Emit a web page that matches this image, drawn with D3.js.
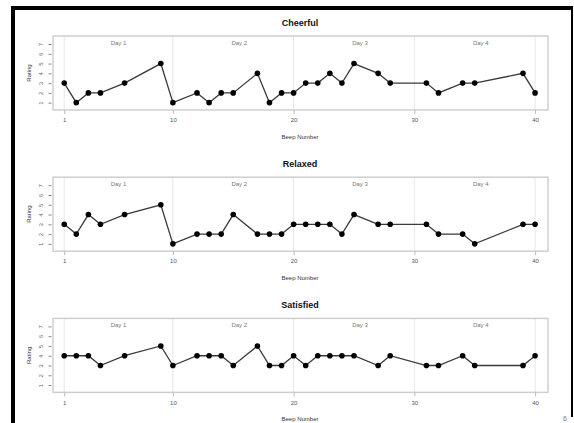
<!DOCTYPE html>
<html>
<head>
<meta charset="utf-8">
<script src="https://cdn.jsdelivr.net/npm/d3@7/dist/d3.min.js"></script>
<style>
  html, body { margin: 0; padding: 0; background: #fff; }
  svg { display: block; font-family: "Liberation Sans", Arial, sans-serif; }
</style>
</head>
<body>
<svg id="chart" width="574" height="423"></svg>
<script>
// Beep numbers at which a rating was recorded
const beeps = [1, 2, 3, 4, 6, 9, 10, 12, 13, 14, 15, 17, 18, 19, 20, 21, 22, 23, 24, 25, 27, 28, 31, 32, 34, 35, 39, 40];

// Ratings per mood item
const cheerful  = [3, 1, 2, 2, 3, 5, 1, 2, 1, 2, 2, 4, 1, 2, 2, 3, 3, 4, 3, 5, 4, 3, 3, 2, 3, 3, 4, 2];
const relaxed   = [3, 2, 4, 3, 4, 5, 1, 2, 2, 2, 4, 2, 2, 2, 3, 3, 3, 3, 2, 4, 3, 3, 3, 2, 2, 1, 3, 3];
const satisfied = [4, 4, 4, 3, 4, 5, 3, 4, 4, 4, 3, 5, 3, 3, 4, 3, 4, 4, 4, 4, 3, 4, 3, 3, 4, 3, 3, 4];

const panelTitles = ["Cheerful", "Relaxed", "Satisfied"];
const xTicks = [1, 10, 20, 30, 40];
const yTicks = [1, 2, 3, 4, 5, 6, 7];
const dayLabels = ["Day 1", "Day 2", "Day 3", "Day 4"];
const dayCenters = [5.5, 15.5, 25.5, 35.5];

const svg = d3.select("#chart");

// slide frame
svg.append("rect").attr("x", 11).attr("y", 6).attr("width", 562).attr("height", 4).attr("fill", "#000");
svg.append("rect").attr("x", 11).attr("y", 6).attr("width", 4).attr("height", 417).attr("fill", "#000");
svg.append("rect").attr("x", 571).attr("y", 6).attr("width", 2).attr("height", 411).attr("fill", "#000");
svg.append("text").attr("x", 565).attr("y", 421).attr("text-anchor", "middle")
  .attr("font-size", 7).attr("fill", "#777").text("6");

const boxLeft = 53, boxRight = 548, boxH = 74;
const x = d3.scaleLinear().domain([0.07, 41.07]).range([boxLeft, boxRight]);

const series = [cheerful, relaxed, satisfied];

series.forEach((vals, i) => {
  const top = 36 + i * 141.2;
  const y = d3.scaleLinear().domain([0.25, 7.82]).range([top + boxH, top]);
  const g = svg.append("g");

  // title
  g.append("text").attr("x", 300).attr("y", top - 10).attr("text-anchor", "middle")
    .attr("font-size", 9).attr("font-weight", "bold").attr("fill", "#111").text(panelTitles[i]);

  // vertical grid at x ticks
  g.selectAll(".grid").data(xTicks).join("line")
    .attr("x1", d => x(d)).attr("x2", d => x(d))
    .attr("y1", top).attr("y2", top + boxH)
    .attr("stroke", "#e6e6e6").attr("stroke-width", 1);

  // plot box
  g.append("rect").attr("x", boxLeft).attr("y", top)
    .attr("width", boxRight - boxLeft).attr("height", boxH)
    .attr("fill", "none").attr("stroke", "#cfcfcf").attr("stroke-width", 1.5);

  // day labels
  g.selectAll(".day").data(dayLabels).join("text")
    .attr("x", (d, k) => x(dayCenters[k])).attr("y", top + 8.5)
    .attr("text-anchor", "middle").attr("font-size", 6).attr("fill", "#777").text(d => d);

  // x axis
  const xAxis = d3.axisBottom(x).tickValues(xTicks).tickSize(4).tickPadding(4).tickFormat(d3.format("d"));
  const xg = g.append("g").attr("transform", `translate(0,${top + boxH})`).call(xAxis);
  xg.select(".domain").remove();
  xg.selectAll(".tick line").attr("stroke", "#bbb");
  xg.selectAll(".tick text").attr("font-size", 6).attr("fill", "#555").attr("font-family", "Liberation Sans, Arial, sans-serif");

  // y axis with labels parallel to the axis
  const yAxis = d3.axisLeft(y).tickValues(yTicks).tickSize(3).tickPadding(0).tickFormat(d3.format("d"));
  const yg = g.append("g").attr("transform", `translate(${boxLeft - 1.5},0)`).call(yAxis);
  yg.select(".domain").remove();
  yg.selectAll(".tick line").attr("stroke", "#888");
  yg.selectAll(".tick text")
    .attr("x", null).attr("dy", null)
    .attr("transform", "translate(-10,0) rotate(-90)")
    .attr("text-anchor", "middle").attr("dominant-baseline", "middle")
    .attr("font-size", 6).attr("fill", "#666").attr("font-family", "Liberation Sans, Arial, sans-serif");

  // axis titles
  g.append("text").attr("transform", `translate(31,${top + boxH / 2}) rotate(-90)`)
    .attr("text-anchor", "middle").attr("font-size", 6).attr("fill", "#333").text("Rating");
  g.append("text").attr("x", 300).attr("y", top + boxH + 28.5).attr("text-anchor", "middle")
    .attr("font-size", 6).attr("fill", "#333").text("Beep Number");

  // series line and points
  const pts = beeps.map((b, k) => [b, vals[k]]);
  g.append("path").datum(pts)
    .attr("d", d3.line().x(d => x(d[0])).y(d => y(d[1])))
    .attr("fill", "none").attr("stroke", "#3a3a3a").attr("stroke-width", 1.3);
  g.selectAll(".pt").data(pts).join("circle")
    .attr("cx", d => x(d[0])).attr("cy", d => y(d[1])).attr("r", 2.8).attr("fill", "#000");
});
</script>
</body>
</html>
